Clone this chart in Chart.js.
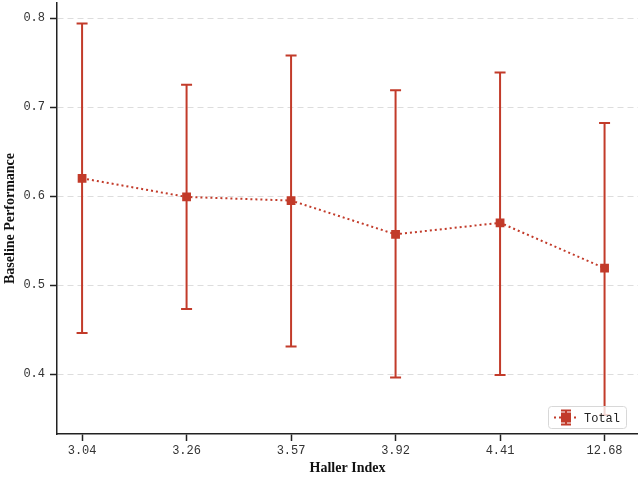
<!DOCTYPE html>
<html><head><meta charset="utf-8">
<script src="https://cdn.jsdelivr.net/npm/chart.js@4/dist/chart.umd.min.js"></script>
<style>html,body{margin:0;padding:0;background:#fff;}#wrap{width:638px;height:477px;}</style>
</head><body><div id="wrap"><canvas id="c" width="638" height="477"></canvas></div>
<script>
const categories = ["3.04", "3.26", "3.57", "3.92", "4.41", "12.68"];
const meanValues = [0.620, 0.599, 0.595, 0.557, 0.570, 0.519];
const upperValues = [0.794, 0.725, 0.758, 0.719, 0.739, 0.682];
const lowerValues = [0.446, 0.473, 0.431, 0.396, 0.399, 0.354];
const yTicks = [0.4, 0.5, 0.6, 0.7, 0.8];
const seriesName = "Total";

const RED = '#c23b2a';
const MONO = '"Liberation Mono", "DejaVu Sans Mono", monospace';
const SERIF = '"Liberation Serif", "DejaVu Serif", serif';

const errorBars = {
  id: 'errorBars',
  beforeDatasetsDraw(chart) {
    const {ctx, scales: {x, y}} = chart;
    ctx.save();
    ctx.strokeStyle = RED; ctx.lineWidth = 2;
    categories.forEach((c, i) => {
      const px = x.getPixelForValue(i);
      const top = y.getPixelForValue(upperValues[i]);
      const bot = y.getPixelForValue(lowerValues[i]);
      ctx.beginPath();
      ctx.moveTo(px, top); ctx.lineTo(px, bot);
      ctx.moveTo(px - 5.5, top); ctx.lineTo(px + 5.5, top);
      ctx.moveTo(px - 5.5, bot); ctx.lineTo(px + 5.5, bot);
      ctx.stroke();
    });
    ctx.restore();
  },
  afterDraw(chart) {
    const {ctx, chartArea} = chart;
    const w = 78, h = 22;
    const bx = chartArea.right - 90, by = chartArea.bottom - 28;
    ctx.save();
    ctx.fillStyle = 'rgba(255,255,255,0.8)';
    ctx.strokeStyle = '#d8d8d8'; ctx.lineWidth = 1;
    ctx.beginPath();
    ctx.roundRect(bx + 0.5, by + 0.5, w, h, 3);
    ctx.fill(); ctx.stroke();
    const cy = by + h / 2 + 0.5;
    ctx.strokeStyle = RED; ctx.lineWidth = 2;
    ctx.setLineDash([2, 3]);
    ctx.beginPath(); ctx.moveTo(bx + 6, cy); ctx.lineTo(bx + 30, cy); ctx.stroke();
    ctx.setLineDash([]);
    const mx = bx + 18;
    ctx.beginPath();
    ctx.moveTo(mx, cy - 7); ctx.lineTo(mx, cy + 7);
    ctx.moveTo(mx - 5, cy - 7); ctx.lineTo(mx + 5, cy - 7);
    ctx.moveTo(mx - 5, cy + 7); ctx.lineTo(mx + 5, cy + 7);
    ctx.stroke();
    ctx.fillStyle = RED;
    ctx.fillRect(mx - 5, cy - 5, 10, 10);
    ctx.fillStyle = '#222';
    ctx.font = '12px ' + MONO;
    ctx.textBaseline = 'middle';
    ctx.fillText(seriesName, bx + 36, cy + 1);
    ctx.restore();
  }
};

new Chart(document.getElementById('c'), {
  type: 'line',
  data: {
    datasets: [{
      label: seriesName,
      data: meanValues.map((v, i) => ({x: i, y: v})),
      borderColor: RED,
      backgroundColor: RED,
      borderWidth: 2,
      borderDash: [2, 3],
      pointStyle: 'rect',
      pointRadius: 4.8,
      pointHoverRadius: 4.8,
      pointBackgroundColor: RED,
      pointBorderColor: RED,
      tension: 0,
      clip: false
    }]
  },
  options: {
    responsive: false,
    animation: false,
    events: [],
    layout: {autoPadding: false, padding: {top: 3, right: 0, left: 0, bottom: 0}},
    plugins: {legend: {display: false}, tooltip: {enabled: false}},
    scales: {
      x: {
        type: 'linear',
        min: -0.24, max: 5.32,
        afterBuildTicks: s => { s.ticks = categories.map((c, i) => ({value: i})); },
        afterFit: s => { s.height = 43; s.paddingLeft = 0; s.paddingRight = 0; },
        grid: {drawOnChartArea: false, drawTicks: true, tickLength: 7, tickColor: '#222', tickWidth: 1.5},
        border: {display: true, color: '#222', width: 1.5},
        ticks: {
          callback: (v, i) => categories[v],
          color: '#333', font: {family: MONO, size: 12}, padding: 3, maxRotation: 0, autoSkip: false
        },
        title: {display: true, text: 'Haller Index', color: '#111', font: {family: SERIF, size: 14, weight: 'bold'}, padding: {top: 0, bottom: 0}}
      },
      y: {
        min: 0.3326, max: 0.817,
        afterBuildTicks: s => { s.ticks = yTicks.map(v => ({value: v})); },
        afterFit: s => { s.width = 57; s.paddingTop = 0; s.paddingBottom = 0; },
        grid: {color: '#dddddd', lineWidth: 1, drawTicks: true, tickLength: 7, tickColor: '#222', tickWidth: 1.5},
        border: {display: true, color: '#222', width: 1.5, dash: [6, 4]},
        ticks: {
          callback: v => v.toFixed(1),
          color: '#333', font: {family: MONO, size: 12}, padding: 5
        },
        title: {display: true, text: 'Baseline Performance', color: '#111', font: {family: SERIF, size: 14, weight: 'bold'}, padding: {top: 2, bottom: 0}}
      }
    }
  },
  plugins: [errorBars]
});
</script></body></html>
